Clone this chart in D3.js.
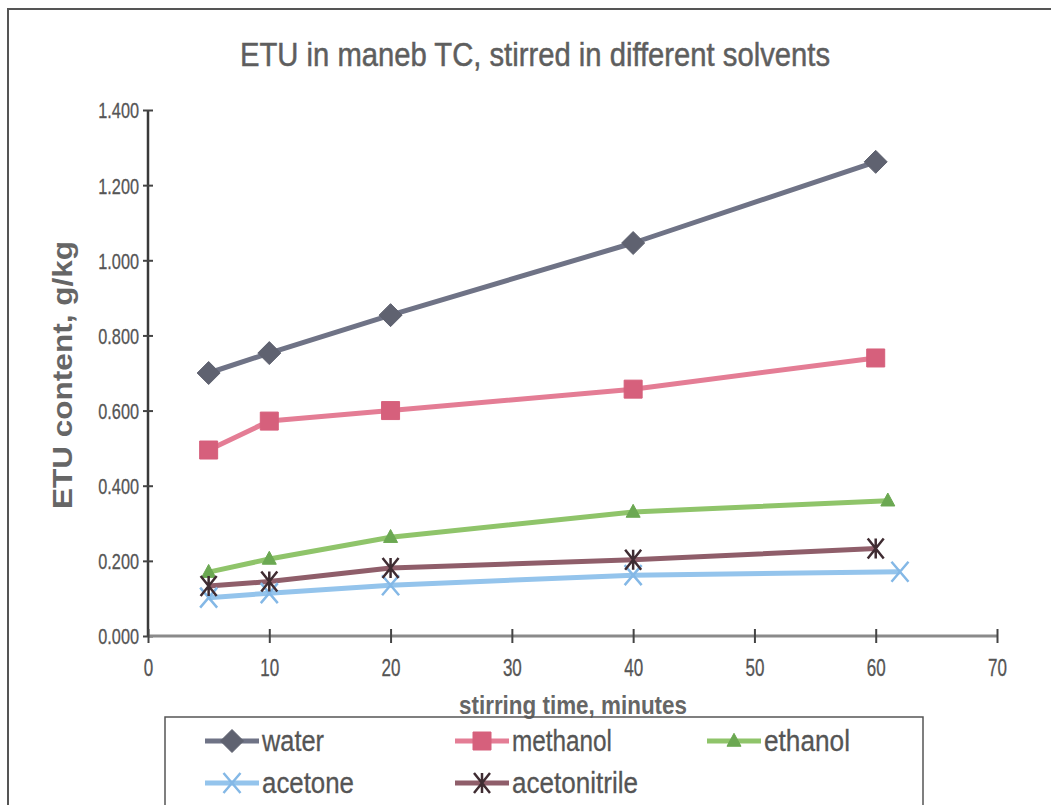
<!DOCTYPE html>
<html>
<head>
<meta charset="utf-8">
<script src="https://cdn.jsdelivr.net/npm/d3@7/dist/d3.min.js"></script>
<style>
  html, body { margin: 0; padding: 0; background: #fff; }
  svg { display: block; }
</style>
</head>
<body>
<svg id="chart" width="1051" height="805"></svg>
<script>
// ETU content over stirring time, one series per solvent
const chartTitle = "ETU in maneb TC, stirred in different solvents";
const xAxisTitle = "stirring time, minutes";
const yAxisTitle = "ETU content, g/kg";

const xTicks = [0, 10, 20, 30, 40, 50, 60, 70];
const yTicks = [0, 0.2, 0.4, 0.6, 0.8, 1.0, 1.2, 1.4];

const seriesNames = ["water", "methanol", "ethanol", "acetone", "acetonitrile"];

const waterTime = [5, 10, 20, 40, 60];
const waterETU = [0.700, 0.753, 0.854, 1.046, 1.262];

const methanolTime = [5, 10, 20, 40, 60];
const methanolETU = [0.495, 0.572, 0.600, 0.657, 0.740];

const ethanolTime = [5, 10, 20, 40, 61];
const ethanolETU = [0.170, 0.205, 0.263, 0.330, 0.360];

const acetoneTime = [5, 10, 20, 40, 62];
const acetoneETU = [0.102, 0.114, 0.135, 0.162, 0.171];

const acetonitrileTime = [5, 10, 20, 40, 60];
const acetonitrileETU = [0.133, 0.145, 0.181, 0.203, 0.233];

const svg = d3.select("#chart");
const FONT = "'Liberation Sans', Arial, sans-serif";
const TEXT_COLOR = "#555";

// plot area
const x = d3.scaleLinear().domain([0, 70]).range([148, 997]);
const y = d3.scaleLinear().domain([0, 1.4]).range([636, 110]);

// marker shapes
const markerPaths = {
  diamond: s => `M0,${-s}L${s},0L0,${s}L${-s},0Z`,
  square: s => `M${-s},${-s}H${s}V${s}H${-s}Z`,
  triangle: s => `M0,${-s * 1.1}L${s},${s * 0.75}H${-s}Z`,
  cross: s => `M${-s * 0.85},${-s}L${s * 0.85},${s}M${s * 0.85},${-s}L${-s * 0.85},${s}`,
  star: s => `M${-s * 0.8},${-s}L${s * 0.8},${s}M${s * 0.8},${-s}L${-s * 0.8},${s}M0,${-s}V${s}`
};

const series = [
  { name: seriesNames[0], t: waterTime, v: waterETU, line: "#6f7386", mark: "#5f6270", shape: "diamond", size: 11.5, filled: true },
  { name: seriesNames[1], t: methanolTime, v: methanolETU, line: "#e47d95", mark: "#d6607c", shape: "square", size: 9, filled: true },
  { name: seriesNames[2], t: ethanolTime, v: ethanolETU, line: "#8fc46a", mark: "#6ba852", shape: "triangle", size: 7, filled: true },
  { name: seriesNames[3], t: acetoneTime, v: acetoneETU, line: "#94c4ec", mark: "#84b8e6", shape: "cross", size: 10, filled: false },
  { name: seriesNames[4], t: acetonitrileTime, v: acetonitrileETU, line: "#8f5e6a", mark: "#3f2c32", shape: "star", size: 10, filled: false }
];

// outer frame of the chart area
svg.append("path")
  .attr("d", "M8,805V9H1051")
  .attr("fill", "none").attr("stroke", "#555").attr("stroke-width", 2);

// condensed text helper
function label(g, tx, ty, text, opts) {
  const o = Object.assign({ size: 18, sx: 1, anchor: "middle", weight: "normal", color: TEXT_COLOR, rotate: 0 }, opts);
  const t = g.append("text")
    .attr("transform", `translate(${tx},${ty}) rotate(${o.rotate}) scale(${o.sx},1)`)
    .attr("text-anchor", o.anchor)
    .attr("font-family", FONT)
    .attr("font-weight", o.weight)
    .attr("fill", o.color)
    .style("font-size", o.size + "px")
    .text(text);
  if (o.length) t.attr("textLength", o.length / o.sx).attr("lengthAdjust", "spacingAndGlyphs");
  if (o.stroke) t.attr("stroke", o.color).attr("stroke-width", o.stroke);
  return t;
}

// title
label(svg, 535, 66, chartTitle, { size: 34, length: 590, color: "#5e5e5e", stroke: 0.5 });

// y axis
const yAxisG = svg.append("g")
  .attr("transform", `translate(${x(0)},0)`)
  .call(d3.axisLeft(y).tickValues(yTicks).tickSize(5).tickFormat(d3.format(".3f")));
yAxisG.select(".domain").attr("stroke", "#3a3a3a").attr("stroke-width", 2.5).attr("d", `M0,${y(0)}V${y(1.4)}`);
yAxisG.selectAll(".tick line").attr("x1", -5).attr("x2", 5).attr("stroke", "#444").attr("stroke-width", 2);
yAxisG.selectAll(".tick text")
  .attr("x", 0).attr("dy", null)
  .attr("font-family", FONT).attr("fill", TEXT_COLOR)
  .attr("stroke", TEXT_COLOR).attr("stroke-width", 0.3)
  .style("font-size", "22px")
  .attr("text-anchor", "end")
  .attr("dominant-baseline", "central")
  .attr("transform", "translate(-9,0) scale(0.74,1)");

// x axis
const xAxisG = svg.append("g")
  .attr("transform", `translate(0,${y(0)})`)
  .call(d3.axisBottom(x).tickValues(xTicks).tickSize(6).tickFormat(d3.format("d")));
xAxisG.select(".domain").attr("stroke", "#8a8a8a").attr("stroke-width", 3).attr("d", `M${x(0)},0H${x(70)}`);
xAxisG.selectAll(".tick line").attr("y1", -7).attr("y2", 7).attr("stroke", "#444").attr("stroke-width", 2);
xAxisG.selectAll(".tick text")
  .attr("y", 0).attr("dy", null)
  .attr("font-family", FONT).attr("fill", TEXT_COLOR)
  .attr("stroke", TEXT_COLOR).attr("stroke-width", 0.3)
  .style("font-size", "23px")
  .attr("transform", "translate(0,40) scale(0.74,1)");

// axis titles
label(svg, 72, 375, yAxisTitle, { size: 27, weight: "bold", rotate: -90, color: "#666", length: 268 });
label(svg, 573, 714, xAxisTitle, { size: 25, weight: "bold", color: "#666", length: 228 });

// series lines and markers
const lineGen = d3.line().x(d => x(d[0])).y(d => y(d[1]));
series.forEach(s => {
  const pts = s.t.map((t, i) => [t, s.v[i]]);
  svg.append("path")
    .attr("d", lineGen(pts))
    .attr("fill", "none")
    .attr("stroke", s.line)
    .attr("stroke-width", 5)
    .attr("stroke-linejoin", "round");
});
series.forEach(s => {
  const pts = s.t.map((t, i) => [t, s.v[i]]);
  svg.append("g").selectAll("path").data(pts).join("path")
    .attr("transform", d => `translate(${x(d[0])},${y(d[1])})`)
    .attr("d", markerPaths[s.shape](s.size))
    .attr("fill", s.filled ? s.mark : "none")
    .attr("stroke", s.mark)
    .attr("stroke-width", s.filled ? 1 : 2.5);
});

// legend
svg.append("path")
  .attr("d", "M165,806V717H923V806")
  .attr("fill", "none").attr("stroke", "#555").attr("stroke-width", 1.5);

const legendPos = [
  { lx: 205, ly: 741 }, { lx: 455, ly: 741 }, { lx: 707, ly: 741 },
  { lx: 205, ly: 783 }, { lx: 455, ly: 783 }
];
const legendTextLen = [62, 100, 86, 92, 126];
series.forEach((s, i) => {
  const p = legendPos[i];
  const g = svg.append("g");
  g.append("line")
    .attr("x1", p.lx).attr("x2", p.lx + 54)
    .attr("y1", p.ly).attr("y2", p.ly)
    .attr("stroke", s.line).attr("stroke-width", 5);
  g.append("path")
    .attr("transform", `translate(${p.lx + 27},${p.ly})`)
    .attr("d", markerPaths[s.shape](s.size))
    .attr("fill", s.filled ? s.mark : "none")
    .attr("stroke", s.mark)
    .attr("stroke-width", s.filled ? 1 : 2.5);
  label(g, p.lx + 57, p.ly + 10, s.name, { size: 29, anchor: "start", length: legendTextLen[i], color: "#555", stroke: 0.3 });
});
</script>
</body>
</html>
